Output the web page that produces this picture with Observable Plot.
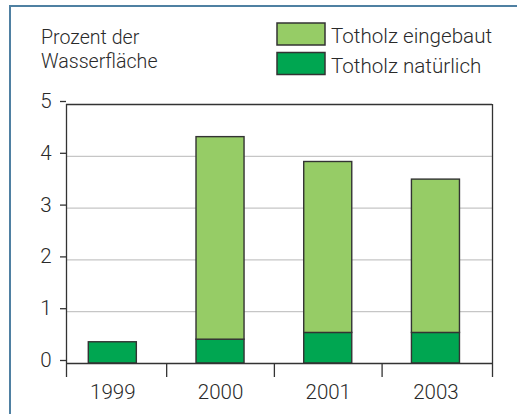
<!DOCTYPE html>
<html>
<head>
<meta charset="utf-8">
<script src="https://cdn.jsdelivr.net/npm/d3@7"></script>
<script src="https://cdn.jsdelivr.net/npm/@observablehq/plot@0.6"></script>
<style>
  html, body { margin: 0; padding: 0; background: #fff; }
  #wrap { position: relative; width: 517px; height: 414px; overflow: hidden; }
  #wrap svg.overlay { position: absolute; left: 0; top: 0; }
  #chart { position: absolute; left: 0; top: 0; }
</style>
</head>
<body>
<div id="wrap">
  <div id="chart"></div>
  <svg class="overlay" width="517" height="414" font-family="Roboto, 'Liberation Sans', sans-serif" font-weight="300" fill="#2a2a2a">
    <path d="M10,414 V6 H517" fill="none" stroke="#4f80a2" stroke-width="2"/>
    <text x="41" y="44" font-size="19.6">Prozent der</text>
    <text x="41" y="68" font-size="19.6">Wasserfläche</text>
    <g id="legend"></g>
  </svg>
</div>
<script>
const years = ["1999", "2000", "2001", "2003"];
const natuerlich = [0.41, 0.46, 0.59, 0.59];
const eingebaut = [0, 3.91, 3.30, 2.96];
const series = ["Totholz eingebaut", "Totholz natürlich"];
const colors = ["#96cc66", "#00a651"];
const yTicks = [0, 1, 2, 3, 4, 5];
const gridTicks = [1, 2, 3, 4];

const rows = years.flatMap((year, i) => [
  {i, year, serie: series[1], y1: 0, y2: natuerlich[i]},
  {i, year, serie: series[0], y1: natuerlich[i], y2: natuerlich[i] + eingebaut[i]}
]).filter(d => d.y2 > d.y1);

const xLo = -0.43, xHi = 3.525, half = 0.223;
const dark = "#333";
const font = "Roboto, 'Liberation Sans', sans-serif";

const chart = Plot.plot({
  width: 517,
  height: 414,
  marginLeft: 66,
  marginRight: 25,
  marginTop: 104,
  marginBottom: 51,
  x: {domain: [xLo, xHi], axis: null},
  y: {domain: [0, 5], axis: null},
  color: {domain: series, range: colors},
  style: {fontFamily: font, fontWeight: 300, color: "#2a2a2a", background: "transparent"},
  marks: [
    Plot.gridY(gridTicks, {stroke: "#c6c6c6", strokeOpacity: 1, strokeWidth: 1.3}),
    Plot.rectY(rows, {
      x1: d => d.i - half, x2: d => d.i + half,
      y1: "y1", y2: "y2", fill: "serie", stroke: dark, strokeWidth: 1.4
    }),
    Plot.ruleY([0, 5], {stroke: dark, strokeWidth: 1.3}),
    Plot.ruleX([xLo, xHi], {stroke: dark, strokeWidth: 1.3}),
    Plot.axisY(yTicks, {tickSize: 6, tickPadding: 9, dy: -3, fontSize: 20.5, tickFormat: d => String(d), stroke: dark, strokeWidth: 1.3, label: null}),
    Plot.axisX([0, 1, 2, 3], {tickSize: 0, tickPadding: 20.5, fontSize: 20.5, tickFormat: i => years[i], label: null}),
    Plot.axisX([xLo, 0.5, 1.5, 2.5, xHi], {tickSize: 14, tickFormat: () => "", stroke: dark, strokeWidth: 1.3, label: null})
  ]
});
document.getElementById("chart").appendChild(chart);

// legend
const ns = "http://www.w3.org/2000/svg";
const lg = document.getElementById("legend");
series.forEach((s, k) => {
  const top = 23 + k * 29.5;
  const r = document.createElementNS(ns, "rect");
  r.setAttribute("x", 277); r.setAttribute("y", top);
  r.setAttribute("width", 48); r.setAttribute("height", 22);
  r.setAttribute("fill", colors[k]); r.setAttribute("stroke", dark); r.setAttribute("stroke-width", 1.5);
  lg.appendChild(r);
  const t = document.createElementNS(ns, "text");
  t.setAttribute("x", 331); t.setAttribute("y", top + 20);
  t.setAttribute("font-size", 20.6);
  t.textContent = s;
  lg.appendChild(t);
});
</script>
</body>
</html>
